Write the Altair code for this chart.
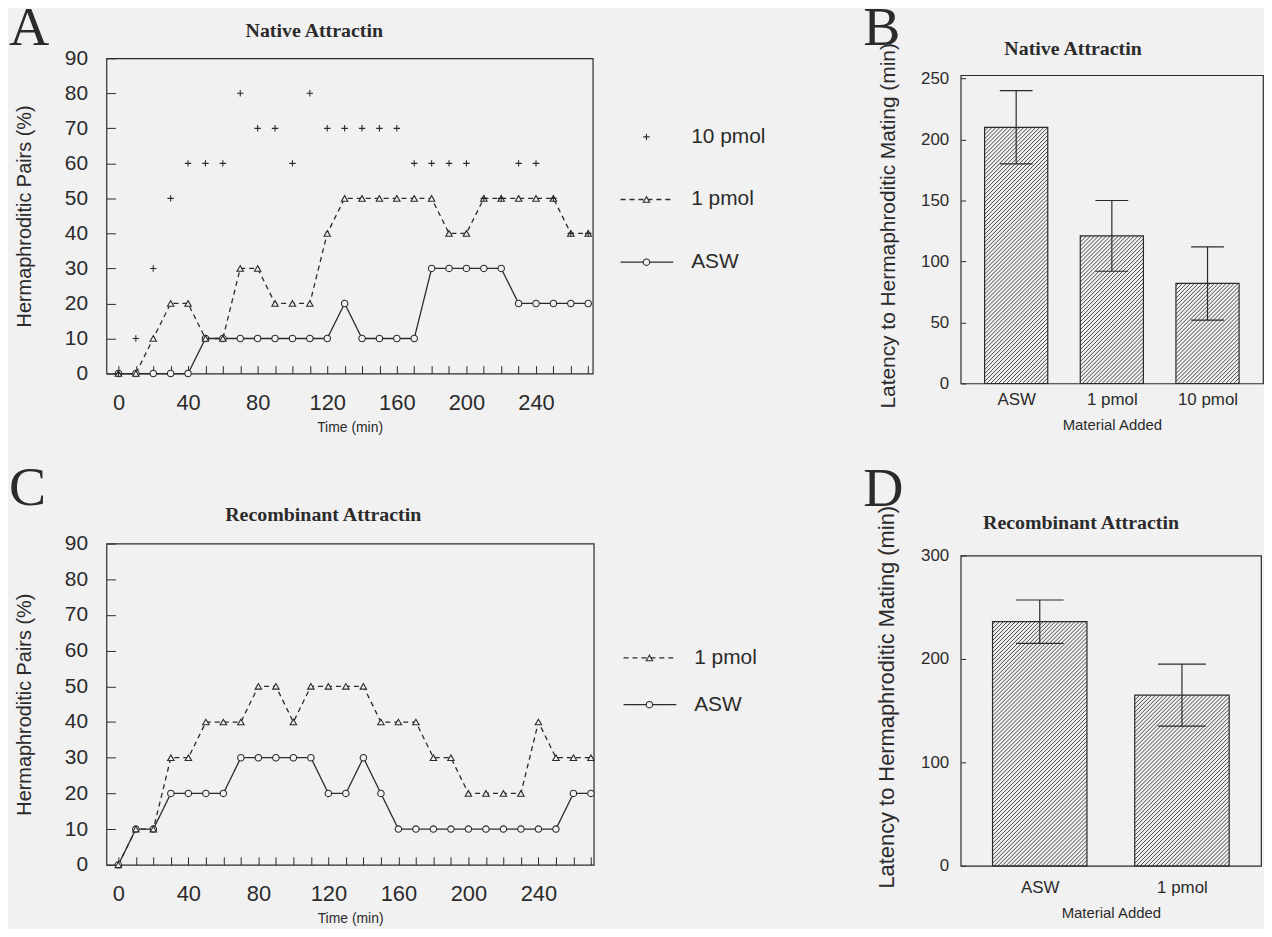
import json
import altair as alt
import pandas as pd

# ---------------- data ----------------
time_min = list(range(0, 280, 10))
a_10pmol = [0, 10, 30, 50, 60, 60, 60, 80, 70, 70, 60, 80, 70, 70, 70, 70, 70, 60, 60, 60,
            60, 50, 50, 60, 60, 50, 40, 40]
a_1pmol = [0, 0, 10, 20, 20, 10, 10, 30, 30, 20, 20, 20, 40, 50, 50, 50, 50, 50, 50, 40,
           40, 50, 50, 50, 50, 50, 40, 40]
a_asw = [0, 0, 0, 0, 0, 10, 10, 10, 10, 10, 10, 10, 10, 20, 10, 10, 10, 10, 30, 30,
         30, 30, 30, 20, 20, 20, 20, 20]
c_1pmol = [0, 10, 10, 30, 30, 40, 40, 40, 50, 50, 40, 50, 50, 50, 50, 40, 40, 40, 30, 30,
           20, 20, 20, 20, 40, 30, 30, 30]
c_asw = [0, 10, 10, 20, 20, 20, 20, 30, 30, 30, 30, 30, 20, 20, 30, 20, 10, 10, 10, 10,
         10, 10, 10, 10, 10, 10, 20, 20]

x_tick_values = list(range(0, 280, 10))
x_label_every = 40
y_tick_values = list(range(0, 100, 10))

series_a = ["10 pmol", "1 pmol", "ASW"]
series_c = ["1 pmol", "ASW"]

b_materials = ["ASW", "1 pmol", "10 pmol"]
b_latency = [210, 121, 82]
b_sem = [30, 29, 30]
b_ticks = [0, 50, 100, 150, 200, 250]

d_materials = ["ASW", "1 pmol"]
d_latency = [236, 165]
d_sem = [21, 30]
d_ticks = [0, 100, 200, 300]

# ---------------- style ----------------
INK = "#2b2b2b"
BG = "#f2f1f1"
SANS = "Liberation Sans"
SERIF = "Liberation Serif"
PLUS = "M-1,0L1,0M0,-1L0,1"
SHAPES = {"10 pmol": PLUS, "1 pmol": "triangle-up", "ASW": "circle"}
DASHES = {"1 pmol": [5, 4], "ASW": [1, 0]}
HIDDEN = alt.ViewBackground(stroke="transparent")


def note(txt, x, y, size, font, weight="normal", align="left"):
    return alt.Chart(pd.DataFrame({"t": [txt]})).mark_text(
        font=font, fontSize=size, fontWeight=weight, align=align,
        baseline="alphabetic", color=INK
    ).encode(text="t:N", x=alt.value(x), y=alt.value(y))


def shape_enc(series):
    return alt.Shape("series:N", scale=alt.Scale(domain=series,
                                                 range=[SHAPES[s] for s in series]),
                     legend=None)


def line_panel(letter, letter_y, title, title_xy, data, series, width, height, xdom):
    order = ["ASW", "1 pmol", "10 pmol"]
    rows = []
    for s in order:
        if s in data:
            for t, v in zip(time_min, data[s]):
                rows.append({"time": t, "pct": v, "series": s})
    df = pd.DataFrame(rows)
    x = alt.X("time:Q", scale=alt.Scale(domain=xdom, nice=False, zero=False),
              axis=alt.Axis(values=x_tick_values,
                            labelExpr=f"datum.value % {x_label_every} === 0 ? datum.label : ''",
                            offset=-8, tickSize=8, domain=False, grid=False,
                            labelFontSize=22, labelPadding=19, labelFlush=False,
                            labelOverlap=False, tickColor=INK, labelColor=INK,
                            title="Time (min)", titleFontSize=14, titleFontWeight="normal",
                            titleColor=INK, titlePadding=7))
    y = alt.Y("pct:Q", scale=alt.Scale(domain=[0, 90], nice=False),
              axis=alt.Axis(values=y_tick_values, offset=-9, tickSize=9, domain=False,
                            grid=False, labelFontSize=21, labelPadding=19, labelFlush=False,
                            tickColor=INK, labelColor=INK,
                            title="Hermaphroditic Pairs (%)", titleFontSize=20,
                            titleFontWeight="normal", titleColor=INK, titlePadding=30))
    base = alt.Chart(df).encode(x=x, y=y)
    layers = []
    for s in series:
        if s in DASHES:
            layers.append(base.transform_filter(alt.datum.series == s).mark_line(
                color=INK, strokeWidth=1.3, strokeDash=DASHES[s]))
    layers.append(base.mark_point(filled=True, fill=BG, stroke=INK, strokeWidth=1.1,
                                  size=42, opacity=1).encode(shape=shape_enc(series)))
    layers.append(note(letter, -98, letter_y, 56, SERIF))
    layers.append(note(title, title_xy[0], title_xy[1], 20, SERIF, "bold", "center"))
    return alt.layer(*layers).properties(width=width, height=height)


def legend_panel(series, width, height, ytop, ystep):
    df = pd.DataFrame({"series": series, "row": list(range(len(series)))})
    n = len(series)
    y = alt.Y("row:Q", scale=alt.Scale(domain=[0, max(n - 1, 1)],
                                       range=[ytop, ytop + ystep * max(n - 1, 1)]),
              axis=None)
    base = alt.Chart(df).encode(y=y)
    layers = []
    for s in series:
        if s in DASHES:
            layers.append(base.transform_filter(alt.datum.series == s).mark_rule(
                color=INK, strokeWidth=1.3, strokeDash=DASHES[s]).encode(
                x=alt.value(25), x2=alt.value(78)))
    layers.append(base.mark_point(filled=True, fill=BG, stroke=INK, strokeWidth=1.1,
                                  size=42, opacity=1).encode(
        x=alt.value(51), shape=shape_enc(series)))
    layers.append(base.mark_text(align="left", baseline="middle", fontSize=21,
                                 font=SANS, color=INK).encode(
        x=alt.value(96), text="series:N"))
    return alt.layer(*layers).properties(width=width, height=height, view=HIDDEN)


def header_spacer(letter, letter_y, title, title_xy):
    # invisible 1px cell that carries a panel letter and title above a plot
    return alt.layer(
        note(letter, -98, letter_y, 56, SERIF),
        note(title, title_xy[0], title_xy[1], 20, SERIF, "bold", "center"),
    ).properties(width=1, height=1, view=HIDDEN)


def bar_panel(letter, letter_y, title, title_xy, cats, means, sems, ticks, ymax,
              width, height, xdom, half, cap_px, title_size, title_y, label_pad):
    n = len(cats)
    xu = (xdom[1] - xdom[0]) / width      # data units per pixel (x)
    yu = ymax / height                    # data units per pixel (y)
    cap = cap_px / 2 * xu
    df = pd.DataFrame({"idx": list(range(n)), "material": cats, "latency": means,
                       "zero": [0] * n,
                       "left": [i - half for i in range(n)],
                       "right": [i + half for i in range(n)],
                       "lo": [m - e for m, e in zip(means, sems)],
                       "hi": [m + e for m, e in zip(means, sems)],
                       "capl": [i - cap for i in range(n)],
                       "capr": [i + cap for i in range(n)]})
    # diagonal hatching inside each bar (derived from the bar values)
    hatch = []
    period = 4.0
    for i, m in enumerate(means):
        w_px = 2 * half / xu
        h_px = m / yu
        b = -w_px + 1.5
        while b < h_px:
            p0 = max(0.0, -b)
            p1 = min(w_px, h_px - b)
            if p1 > p0:
                hatch.append({"hx": i - half + p0 * xu, "hy": (p0 + b) * yu,
                              "hx2": i - half + p1 * xu, "hy2": (p1 + b) * yu})
            b += period
    hdf = pd.DataFrame(hatch)

    label_expr = json.dumps(cats) + "[datum.value]"
    x = alt.X("left:Q", scale=alt.Scale(domain=xdom, nice=False, zero=False),
              axis=alt.Axis(values=list(range(n)), labelExpr=label_expr, ticks=False,
                            domain=False, grid=False, labelAngle=0, labelFontSize=17,
                            labelPadding=label_pad, labelColor=INK, labelFlush=False,
                            title="Material Added", titleFontSize=15,
                            titleFontWeight="normal", titleColor=INK, titlePadding=10))
    y = alt.Y("latency:Q", scale=alt.Scale(domain=[0, ymax], nice=False),
              axis=alt.Axis(values=ticks, offset=-5, tickSize=5, domain=False, grid=False,
                            labelFontSize=17, labelPadding=12, labelFlush=False,
                            tickColor=INK, labelColor=INK,
                            title="Latency to Hermaphroditic Mating (min)",
                            titleFontSize=title_size, titleFontWeight="normal",
                            titleColor=INK, titlePadding=22, titleY=title_y))
    base = alt.Chart(df)
    layers = [
        base.mark_rect(fill=BG).encode(x=x, x2="right:Q", y=y, y2="zero:Q"),
        alt.Chart(hdf).mark_rule(color="#333333", strokeWidth=0.9).encode(
            x=alt.X("hx:Q"), y=alt.Y("hy:Q"), x2="hx2:Q", y2="hy2:Q"),
        base.mark_rect(fill="transparent", stroke=INK, strokeWidth=1.2).encode(
            x=alt.X("left:Q"), x2="right:Q", y=alt.Y("latency:Q"), y2="zero:Q"),
        base.mark_rule(color=INK, strokeWidth=1.2).encode(
            x=alt.X("idx:Q"), y=alt.Y("lo:Q"), y2="hi:Q"),
        base.mark_rule(color=INK, strokeWidth=1.2).encode(
            x=alt.X("capl:Q"), x2="capr:Q", y=alt.Y("lo:Q")),
        base.mark_rule(color=INK, strokeWidth=1.2).encode(
            x=alt.X("capl:Q"), x2="capr:Q", y=alt.Y("hi:Q")),
    ]
    if letter:
        layers.append(note(letter, -98, letter_y, 56, SERIF))
        layers.append(note(title, title_xy[0], title_xy[1], 20, SERIF, "bold", "center"))
    return alt.layer(*layers).properties(width=width, height=height)


A = line_panel("A", -13, "Native Attractin", (209, -21),
               {"10 pmol": a_10pmol, "1 pmol": a_1pmol, "ASW": a_asw},
               series_a, 489, 317, [-6.9, 272.6])
C = line_panel("C", -39, "Recombinant Attractin", (218, -23),
               {"1 pmol": c_1pmol, "ASW": c_asw},
               series_c, 490, 323, [-6.8, 271.6])
legA = legend_panel(series_a, 266, 317, 79, 63)
legC = legend_panel(series_c, 264, 323, 115, 47)

B_head = header_spacer("B", -13, "Native Attractin", (113, -3))
B = bar_panel(None, 0, "", (0, 0), b_materials, b_latency, b_sem,
              b_ticks, 252.7, 304, 310, [-0.58, 2.58], 0.33, 33, 21, 151, 8)
D = bar_panel("D", -50, "Recombinant Attractin", (121, -27), d_materials, d_latency, d_sem,
              d_ticks, 300, 302, 312, [-0.556, 1.556], 0.332, 48, 22, 142, 14)

left_col = alt.vconcat(alt.hconcat(A, legA, spacing=0),
                       alt.hconcat(C, legC, spacing=0), spacing=24)
right_col = alt.vconcat(alt.vconcat(B_head, B, spacing=-19), D, spacing=27)
chart = alt.hconcat(left_col, right_col, spacing=0).properties(
    padding={"left": 0, "top": -11, "right": 0, "bottom": 0}
).configure(background=BG, font=SANS).configure_view(stroke=INK, strokeWidth=1.2)

chart.save("out.html", embed_options={"renderer": "svg", "actions": False})
